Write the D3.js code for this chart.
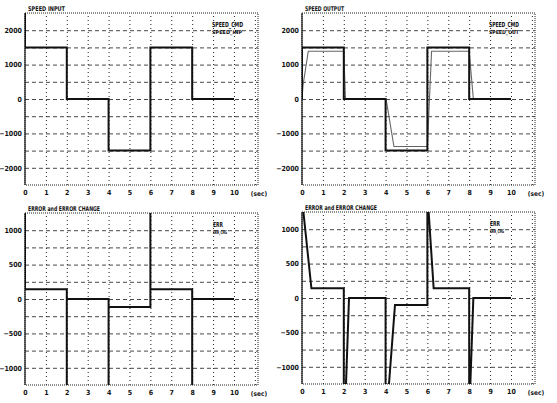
<!DOCTYPE html>
<html>
<head>
<meta charset="utf-8">
<script src="https://cdn.jsdelivr.net/npm/d3@7"></script>
<style>
  body { margin: 0; background: #fff; }
  svg { display: block; }
  text { font-family: "DejaVu Sans Condensed", "DejaVu Sans", sans-serif; font-weight: bold; fill: #111; }
</style>
</head>
<body>
<div id="chart"></div>
<script>

// time ticks (sec)
var timeTicks = [0, 1, 2, 3, 4, 5, 6, 7, 8, 9, 10];

// speed panels
var speedTicks = [2000, 1000, 0, -1000, -2000];

var inCmdT = [0, 0, 2, 2, 4, 4, 6, 6, 8, 8, 10];
var inCmdV = [2600, 1500, 1500, 0, 0, -1500, -1500, 1500, 1500, 0, 0];

var outCmdT = [0, 0, 2, 2, 4, 4, 6, 6, 8, 8, 10];
var outCmdV = [0, 1500, 1500, 0, 0, -1500, -1500, 1500, 1500, 0, 0];

var outSpdT = [0, 0.05, 0.3, 2, 2.08, 4, 4.05, 4.4, 6, 6.2, 8, 8.2, 10];
var outSpdV = [0, 400, 1390, 1390, 0, 0, -100, -1380, -1380, 1390, 1390, 0, 0];

// error panels
var errTicks = [1000, 500, 0, -500, -1000];

var err1T = [0, 0, 2, 2, 2, 4, 4, 4, 6, 6, 6, 8, 8, 8, 10];
var err1V = [1300, 140, 140, -1300, 0, 0, -1300, -115, -115, 1300, 140, 140, -1300, 0, 0];

var err2T = [0.05, 0.45, 2, 2, 2.1, 2.25, 4, 4, 4.15, 4.45, 6, 6, 6.05, 6.3, 8, 8, 8.05, 8.2, 10];
var err2V = [1300, 140, 140, -1300, -1300, 0, 0, -1300, -1300, -100, -100, 1300, 1300, 140, 140, -1300, -1300, 0, 0];


var W = 557, H = 403;

var svg = d3.select('#chart')
    .append('svg')
    .attr('width', W)
    .attr('height', H);

function zip(ts, vs) {
    return ts.map(function(t, i) { return [t, vs[i]]; });
}

function drawPanel(cfg) {

    var w = 233, h = 172;

    var x = d3.scaleLinear().domain([0, 11.15]).range([0, w]);
    var y = d3.scaleLinear().domain(cfg.domain).range([h, 0]);

    var g = svg.append('g')
        .attr('transform', 'translate(' + [cfg.left, cfg.top] + ')');

    var clipId = 'clip' + cfg.id;
    g.append('defs').append('clipPath')
        .attr('id', clipId)
        .append('rect')
        .attr('width', w)
        .attr('height', h);

    // horizontal grid (dashed)
    g.append('g')
        .attr('class', 'grid')
        .call(d3.axisLeft(y).tickValues(cfg.grid).tickSize(-w).tickFormat(''))
        .call(function(s) {
            s.select('.domain').remove();
            s.selectAll('line')
                .attr('stroke', '#333')
                .attr('stroke-width', 0.9)
                .attr('stroke-dasharray', '4,3');
        });

    // vertical grid (dotted)
    g.append('g')
        .attr('class', 'grid')
        .attr('transform', 'translate(0,' + h + ')')
        .call(d3.axisBottom(x).tickValues(d3.range(1, 12)).tickSize(-h).tickFormat(''))
        .call(function(s) {
            s.select('.domain').remove();
            s.selectAll('line')
                .attr('stroke', '#222')
                .attr('stroke-width', 1)
                .attr('stroke-dasharray', '1,3');
        });

    // frame
    g.append('rect')
        .attr('width', w)
        .attr('height', h)
        .attr('fill', 'none')
        .attr('stroke', '#222')
        .attr('stroke-width', 1)
        .attr('stroke-dasharray', '1,1');
    g.append('line')
        .attr('x1', 0).attr('x2', 0)
        .attr('y1', 0).attr('y2', h)
        .attr('stroke', '#111')
        .attr('stroke-width', 1.2);

    // y tick labels
    g.append('g')
        .call(d3.axisLeft(y).tickValues(cfg.ticks).tickSize(0).tickPadding(3).tickFormat(d3.format('d')))
        .call(function(s) {
            s.select('.domain').remove();
            s.selectAll('text')
                .attr('font-size', 7)
                .attr('font-family', null);
        });

    // x tick labels
    g.append('g')
        .attr('transform', 'translate(0,' + h + ')')
        .call(d3.axisBottom(x).tickValues(timeTicks).tickSize(0).tickPadding(5))
        .call(function(s) {
            s.select('.domain').remove();
            s.selectAll('text')
                .attr('font-size', 7)
                .attr('font-family', null);
        });

    g.append('text')
        .attr('x', w + 1)
        .attr('y', h + 11)
        .attr('text-anchor', 'middle')
        .attr('font-size', 6.5)
        .text('(sec)');

    // title
    g.append('text')
        .attr('x', 3)
        .attr('y', -2)
        .attr('font-size', 6.5)
        .attr('textLength', cfg.titleLen)
        .attr('lengthAdjust', 'spacingAndGlyphs')
        .text(cfg.title);

    // legend
    g.append('text')
        .attr('x', cfg.legX)
        .attr('y', 14)
        .attr('font-size', 7)
        .attr('textLength', cfg.leg1Len)
        .attr('lengthAdjust', 'spacingAndGlyphs')
        .text(cfg.leg1);
    g.append('text')
        .attr('x', cfg.legX)
        .attr('y', 21)
        .attr('font-size', 5)
        .attr('font-weight', 'normal')
        .attr('fill', '#555')
        .attr('textLength', cfg.leg2Len)
        .attr('lengthAdjust', 'spacingAndGlyphs')
        .text(cfg.leg2);

    var line = d3.line()
        .x(function(d) { return x(d[0]); })
        .y(function(d) { return y(d[1]); });

    var plot = g.append('g').attr('clip-path', 'url(#' + clipId + ')');

    cfg.series.forEach(function(sr) {
        plot.append('path')
            .datum(zip(sr.t, sr.v))
            .attr('fill', 'none')
            .attr('stroke', sr.color)
            .attr('stroke-width', sr.width)
            .attr('d', line);
    });
}

drawPanel({
    id: 1, left: 25, top: 13,
    domain: [-2500, 2500],
    ticks: speedTicks,
    grid: d3.range(-2000, 2001, 500),
    title: 'SPEED INPUT', titleLen: 37,
    legX: 187, leg1: 'SPEED_CMD', leg1Len: 31, leg2: 'SPEED_INP', leg2Len: 30,
    series: [
        { t: inCmdT, v: inCmdV, color: '#111', width: 2 }
    ]
});

drawPanel({
    id: 2, left: 302, top: 13,
    domain: [-2500, 2500],
    ticks: speedTicks,
    grid: d3.range(-2000, 2001, 500),
    title: 'SPEED OUTPUT', titleLen: 39,
    legX: 187, leg1: 'SPEED_CMD', leg1Len: 30, leg2: 'SPEED_OUT', leg2Len: 30,
    series: [
        { t: outSpdT, v: outSpdV, color: '#666', width: 1.1 },
        { t: outCmdT, v: outCmdV, color: '#111', width: 2 }
    ]
});

drawPanel({
    id: 3, left: 25, top: 213,
    domain: [-1250, 1250],
    ticks: errTicks,
    grid: d3.range(-1000, 1001, 250),
    title: 'ERROR and ERROR CHANGE', titleLen: 72,
    legX: 188, leg1: 'ERR', leg1Len: 10, leg2: 'ERR_CHG', leg2Len: 14,
    series: [
        { t: err1T, v: err1V, color: '#111', width: 2 }
    ]
});

drawPanel({
    id: 4, left: 302, top: 212,
    domain: [-1250, 1250],
    ticks: errTicks,
    grid: d3.range(-1000, 1001, 250),
    title: 'ERROR and ERROR CHANGE', titleLen: 72,
    legX: 188, leg1: 'ERR', leg1Len: 10, leg2: 'ERR_CHG', leg2Len: 14,
    series: [
        { t: err2T, v: err2V, color: '#111', width: 2 }
    ]
});

</script>
</body>
</html>
